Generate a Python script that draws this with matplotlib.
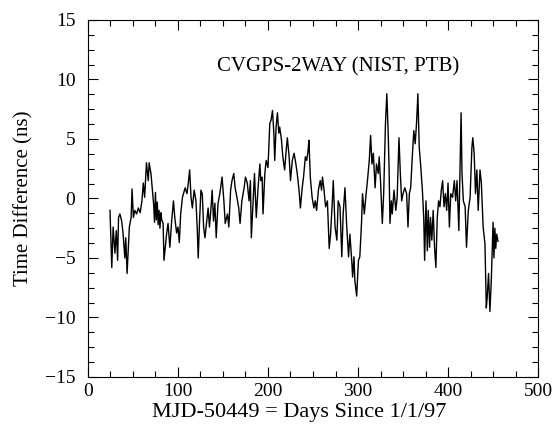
import matplotlib
matplotlib.use("Agg")
import matplotlib.pyplot as plt
from matplotlib.ticker import MultipleLocator

# days since 1/1/97 and time difference (ns)
days = [24.5, 26.5, 28, 30, 31.5, 33, 34, 35.5, 37.5, 39, 41, 42, 43.5, 46, 48, 49,
        50.5, 52, 54, 56, 58, 60, 61.5, 63, 65, 67, 68, 70, 72, 73, 74, 75, 76, 77,
        78, 79, 80, 81, 82, 83.5, 84.5, 87.5, 89, 91, 93, 95, 96.5, 98.5, 100,
        101.5, 103, 105, 108, 110, 111.5, 113, 114.5, 116, 118, 120, 121.5, 122.5,
        124, 125.5, 127, 128.5, 130, 132, 133.5, 135, 136.5, 138, 139.5, 141,
        142.5, 144.5, 146.5, 149, 151, 152.5, 155, 156.5, 158.5, 160, 162, 163.5,
        165.5, 167.5, 169, 171, 173.5, 175, 177, 179, 180.5, 181.5, 183.5, 185,
        187, 189, 191, 192, 193.5, 194.5, 196.5, 198, 200, 202, 203.5, 205, 206.5,
        207.5, 209, 210.5, 212, 213, 215, 216.5, 218.5, 220.5, 221.5, 223.5, 225,
        227, 229, 231, 232.5, 234.5, 236, 238, 239.5, 241.5, 243, 244.5, 245.5,
        247, 249, 251, 252.5, 254, 256, 258, 259.5, 260.5, 262, 264, 266, 268,
        269.5, 271.5, 272.5, 274.5, 276.5, 278, 280, 282, 283.5, 285.5, 287.5,
        289.5, 291, 293, 294, 295.5, 296.5, 298.5, 300.5, 302, 304, 305, 307, 309,
        310.5, 312.5, 314, 315.5, 317, 319, 320.5, 322.5, 323.5, 325, 327, 328.5,
        330.5, 332, 333.5, 334.5, 335.5, 337, 338, 340, 342, 343.5, 345.5, 347,
        348.5, 350, 352, 354, 355.5, 357, 358.5, 360.5, 362, 363.5, 365, 366.5,
        368, 369.5, 371.5, 373, 374, 375.5, 377, 378, 379.5, 380.5, 382, 383.5,
        385, 386.5, 388, 389.5, 391, 392.5, 394, 395.5, 397, 398.5, 400, 401.5,
        403, 405, 407, 408.5, 410, 412, 413, 414.5, 415.5, 417, 419, 420.5, 422.5,
        424.5, 426.5, 427.5, 429, 430.5, 432, 433.5, 435.5, 437, 439, 441, 442.5,
        443.5, 445, 446.5, 448, 449, 450, 451, 452, 453, 454, 455.5]
tdiff = [-1.0, -5.8, -2.4, -4.6, -2.7, -5.2, -1.6, -1.3, -1.9, -2.9, -5.0, -3.3,
         -6.3, -2.4, -1.6, 0.8, -1.6, -1.0, -1.3, -0.8, -1.2, -0.2, 1.3, 0.1, 3.0,
         1.5, 3.0, 2.1, 0.4, -0.5, -2.0, 0.5, -1.8, -0.3, -2.2, -1.0, -2.5, -1.2,
         -1.8, -2.1, -5.2, -2.9, -2.1, -4.1, -1.9, -0.2, -1.6, -2.9, -2.4, -3.7,
         -1.3, 0.1, 0.9, 0.4, 1.3, 2.4, 0.1, -0.8, 0.7, -0.2, -2.7, -5.0, -1.9,
         0.7, 0.4, -2.4, -3.3, -1.9, -0.8, -2.4, -1.0, 0.7, -1.9, -0.4, -3.3, -0.4,
         0.4, 1.8, -0.2, -2.1, -1.3, -2.4, 0.7, 1.5, 2.1, 0.9, 0.1, -0.8, -2.1,
         -0.2, 0.9, 1.8, 1.3, -0.2, 1.5, -3.3, -0.2, 2.1, -1.6, 0.9, 2.9, 1.5, 1.8,
         -1.3, 2.1, 3.2, 2.6, 6.3, 6.6, 7.4, 5.5, 3.2, 6.0, 7.2, 5.5, 6.0, 4.9, 3.5,
         2.4, 4.3, 5.1, 3.5, 1.5, 3.2, 3.8, 2.9, 2.1, 0.7, -0.8, 0.9, 1.8, 3.5, 3.2,
         4.0, 4.9, 1.8, 0.1, -0.8, -0.2, -1.0, 0.7, 1.5, 0.7, 1.8, 0.9, -0.7, -0.2,
         -4.2, -3.0, -0.2, 1.5, -2.4, -3.5, -0.2, -0.7, -4.9, -1.3, 0.9, -2.4, -4.9,
         -3.0, -5.2, -6.6, -4.9, -6.9, -8.2, -5.2, -4.9, -1.9, 0.4, -1.3, 0.4, 1.5,
         3.2, 5.3, 2.9, 3.8, 0.9, 2.9, 2.1, 3.5, 1.5, -2.1, 0.4, 6.3, 8.8, 5.5, 2.6,
         -2.1, -0.2, -1.3, 0.7, -1.0, 0.1, 5.1, 2.1, -0.2, 0.4, 0.9, 0.4, -2.4, 0.4,
         0.9, 3.8, 5.7, 4.6, 6.3, 8.8, 4.3, 2.9, 0.7, -1.6, -5.2, -0.2, -4.4, -1.0,
         -4.1, -1.6, -3.5, -1.0, -4.1, -5.8, -1.6, -0.2, -0.7, 0.7, 1.5, -0.7, 0.4,
         -1.0, 1.3, -2.4, 0.4, 0.1, 1.5, -0.2, 1.5, -2.7, 1.3, 7.2, 2.1, -0.2, -0.7,
         -4.1, -1.0, 0.1, 4.3, 5.1, 3.8, 0.4, 2.4, -1.0, 2.4, 1.3, -2.4, -3.8, -9.2,
         -8.3, -6.3, -9.5, -7.0, -4.5, -2.0, -5.0, -2.5, -4.2, -3.0, -3.6]

plt.rcParams['font.family'] = ['Liberation Serif', 'DejaVu Serif']

fig = plt.figure(figsize=(5.53, 4.25), dpi=100)
ax = fig.add_axes([0.159, 0.113, 0.814, 0.840])

ax.plot(days, tdiff, color='black', linewidth=1.0)

ax.set_xlim(0, 500)
ax.set_ylim(-15, 15)
ax.xaxis.set_major_locator(MultipleLocator(100))
ax.xaxis.set_minor_locator(MultipleLocator(25))
ax.yaxis.set_major_locator(MultipleLocator(5))
ax.yaxis.set_minor_locator(MultipleLocator(1.25))
ax.tick_params(which='both', direction='in', top=True, right=True,
               labelsize=14, width=0.8)
ax.tick_params(which='major', length=7)
ax.tick_params(which='minor', length=4)
ax.tick_params(axis='y', which='major', pad=9)
ax.tick_params(axis='x', which='major', pad=4)
for s in ax.spines.values():
    s.set_linewidth(0.8)

ax.set_xlabel('MJD-50449 = Days Since 1/1/97', fontsize=16)
ax.xaxis.set_label_coords(0.47, -0.074, transform=ax.transAxes)
ax.xaxis.label.set_va('top')
ax.set_ylabel('Time Difference (ns)', fontsize=15, labelpad=8)
ax.text(0.555, 0.87, 'CVGPS-2WAY (NIST, PTB)', transform=ax.transAxes,
        ha='center', va='center', fontsize=15)

fig.savefig('out.png', dpi=100)
